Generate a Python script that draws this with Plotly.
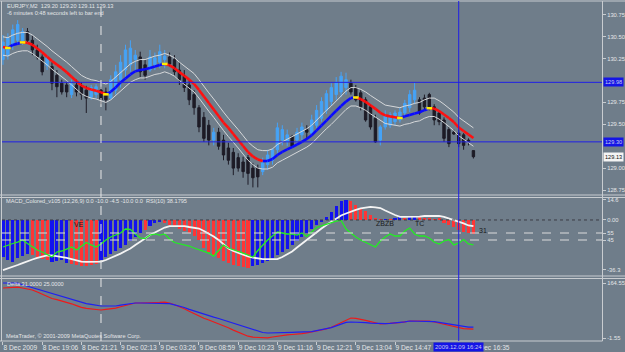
import plotly.graph_objects as go

W, H = 625, 352
def px(xp): return xp / W
def py(yp): return 1 - yp / H

# ---------------- data ----------------
bars = list(range(97))
open_ = [130.24,130.29,130.41,130.46,130.44,130.56,130.46,130.35,130.27,130.17,
         130.16,130.06,129.97,129.95,129.84,129.95,129.94,129.89,129.81,129.84,
         129.89,129.87,129.80,129.89,130.01,130.12,130.18,130.24,130.27,130.18,
         130.12,130.18,130.21,130.24,130.27,130.24,130.12,130.05,129.95,129.84,
         129.69,129.58,129.49,129.32,129.41,129.32,129.23,129.18,129.12,129.07,
         129.12,129.00,129.00,128.96,129.04,129.09,129.21,129.32,129.30,129.36,
         129.32,129.38,129.44,129.40,129.49,129.57,129.66,129.76,129.84,129.87,
         129.92,129.97,129.92,129.86,129.78,129.70,129.57,129.32,129.47,129.49,
         129.53,129.55,129.63,129.69,129.78,129.78,129.80,129.84,129.70,129.63,
         129.55,129.44,129.41,129.40,129.38,129.32,129.20]
high_ = [130.52,130.54,130.64,130.69,130.60,130.60,130.51,130.41,130.30,130.29,
         130.21,130.12,130.01,129.98,130.01,130.01,129.98,129.94,129.95,129.96,
         129.93,129.92,130.06,130.18,130.29,130.41,130.46,130.35,130.33,130.24,
         130.35,130.32,130.41,130.35,130.32,130.29,130.21,130.12,130.01,129.89,
         129.72,129.64,129.55,129.46,129.46,129.38,129.29,129.23,129.17,129.13,
         129.15,129.06,129.04,129.12,129.21,129.23,129.52,129.49,129.44,129.38,
         129.46,129.52,129.49,129.61,129.72,129.81,129.89,129.97,130.04,130.10,
         130.09,130.01,129.95,129.89,129.81,129.73,129.61,129.49,129.66,129.64,
         129.66,129.69,129.78,129.89,129.98,129.81,129.84,129.86,129.73,129.66,
         129.58,129.47,129.44,129.44,129.40,129.34,129.20]
low_ = [130.18,130.24,130.35,130.41,130.41,130.44,130.29,130.24,130.06,130.12,
        129.89,129.81,129.84,129.81,129.80,129.82,129.78,129.63,129.78,129.80,
        129.73,129.66,129.78,129.84,129.92,130.04,130.10,130.12,130.04,130.01,
        130.10,130.12,130.14,130.14,130.16,130.06,129.95,129.87,129.72,129.61,
        129.41,129.30,129.26,129.26,129.21,129.09,129.04,128.92,128.96,128.89,
        128.81,128.78,128.78,128.92,128.98,129.04,129.17,129.26,129.25,129.24,
        129.29,129.32,129.32,129.37,129.46,129.53,129.62,129.71,129.78,129.81,
        129.84,129.84,129.76,129.66,129.53,129.44,129.29,129.26,129.44,129.46,
        129.49,129.52,129.60,129.64,129.73,129.61,129.66,129.66,129.49,129.49,
        129.30,129.24,129.38,129.24,129.21,129.26,129.11]
close_ = [130.44,130.49,130.58,130.64,130.56,130.46,130.35,130.27,130.10,130.26,
          129.97,129.93,129.87,129.87,129.96,129.87,129.84,129.80,129.92,129.93,
          129.78,129.78,130.01,130.10,130.21,130.35,130.37,130.29,130.10,130.06,
          130.27,130.26,130.33,130.28,130.19,130.10,130.01,129.92,129.78,129.69,
          129.47,129.34,129.32,129.41,129.25,129.15,129.09,129.00,129.00,128.96,
          128.94,128.89,128.90,129.06,129.15,129.21,129.46,129.44,129.38,129.25,
          129.41,129.47,129.41,129.55,129.66,129.76,129.85,129.92,129.98,130.05,
          130.01,129.87,129.78,129.70,129.55,129.47,129.30,129.47,129.61,129.61,
          129.63,129.64,129.74,129.84,129.89,129.63,129.70,129.70,129.55,129.53,
          129.34,129.28,129.39,129.28,129.26,129.30,129.13]

ma = [130.384,130.373,130.407,130.422,130.436,130.432,130.409,130.366,130.323,130.273,
      130.223,130.182,130.142,130.095,130.044,129.993,129.943,129.916,129.897,129.883,
      129.867,129.843,129.872,129.921,129.979,130.024,130.070,130.107,130.121,130.129,
      130.144,130.161,130.179,130.190,130.175,130.142,130.097,130.055,130.011,129.961,
      129.893,129.819,129.744,129.670,129.596,129.521,129.459,129.390,129.321,129.253,
      129.184,129.133,129.099,129.081,129.081,129.104,129.150,129.185,129.214,129.241,
      129.270,129.300,129.334,129.375,129.431,129.487,129.543,129.599,129.655,129.710,
      129.760,129.801,129.807,129.789,129.757,129.718,129.677,129.632,129.603,129.591,
      129.581,129.573,129.593,129.606,129.623,129.639,129.662,129.684,129.681,129.652,
      129.612,129.572,129.527,129.464,129.424,129.384,129.344]
band_up = [130.50,130.49,130.52,130.54,130.55,130.55,130.52,130.48,130.44,130.39,
           130.34,130.30,130.26,130.21,130.16,130.11,130.06,130.03,130.01,130.00,
           129.98,129.96,129.99,130.04,130.09,130.14,130.19,130.22,130.24,130.24,
           130.26,130.28,130.29,130.31,130.29,130.26,130.21,130.17,130.13,130.08,
           130.01,129.93,129.86,129.79,129.71,129.64,129.57,129.51,129.44,129.37,
           129.30,129.25,129.21,129.20,129.20,129.22,129.27,129.30,129.33,129.36,
           129.39,129.42,129.45,129.49,129.55,129.60,129.66,129.71,129.77,129.83,
           129.88,129.92,129.92,129.90,129.87,129.83,129.79,129.75,129.72,129.71,
           129.70,129.69,129.71,129.72,129.74,129.75,129.78,129.80,129.80,129.77,
           129.73,129.69,129.64,129.58,129.54,129.50,129.46]
band_dn = [130.29,130.28,130.31,130.33,130.34,130.34,130.31,130.27,130.23,130.18,
           130.13,130.09,130.05,130.00,129.95,129.90,129.85,129.82,129.80,129.79,
           129.77,129.75,129.78,129.83,129.88,129.93,129.98,130.01,130.03,130.03,
           130.05,130.07,130.08,130.10,130.08,130.05,130.00,129.96,129.92,129.87,
           129.80,129.72,129.65,129.58,129.50,129.43,129.36,129.30,129.23,129.16,
           129.09,129.04,129.00,128.99,128.99,129.01,129.06,129.09,129.12,129.15,
           129.18,129.21,129.24,129.28,129.34,129.39,129.45,129.50,129.56,129.62,
           129.67,129.71,129.71,129.69,129.66,129.62,129.58,129.54,129.51,129.50,
           129.49,129.48,129.50,129.51,129.53,129.54,129.57,129.59,129.59,129.56,
           129.52,129.48,129.43,129.37,129.33,129.29,129.25]

macd_hist = [-26.9,-29.1,-30.5,-27.6,-26.2,-24.7,-25.5,-26.9,-28.4,-29.1,
             -30.5,-29.8,-29.1,-31.3,-32.0,-32.7,-33.5,-33.5,-32.7,-32.0,
             -29.1,-26.9,-24.7,-22.5,-20.4,-18.2,-15.3,-12.4,-9.5,-7.3,
             -4.4,-2.2,-1.5,-2.2,-3.6,-5.1,-6.5,-8.0,-9.5,-11.6,
             -14.5,-20.4,-23.3,-25.5,-27.6,-29.8,-31.3,-32.7,-33.5,-34.2,
             -34.9,-33.5,-32.7,-31.3,-29.8,-27.6,-25.5,-23.3,-21.1,-18.2,
             -15.3,-12.4,-9.5,-6.5,-3.6,-1.5,2.2,5.8,10.2,13.8,
             14.6,13.8,10.9,8.7,6.5,3.6,1.5,0.7,0.7,0.7,
             1.5,2.2,1.5,2.2,2.9,2.2,1.5,1.5,0.7,1.5,
             -2.2,-3.6,-5.1,-7.3,-8.7,-9.5,-10.0]
hist_dir = ["up","up","up","up","up","up","dn","dn","dn","dn",
            "up","up","up","up","dn","dn","dn","dn","dn","dn",
            "up","up","up","up","up","up","up","up","up","dn",
            "up","up","up","dn","dn","dn","dn","dn","dn","dn",
            "dn","dn","dn","dn","dn","dn","dn","dn","dn","dn",
            "dn","up","up","up","up","up","up","up","up","up",
            "up","up","up","up","up","up","up","up","up","up",
            "up","dn","dn","dn","dn","dn","dn","dn","up","dn",
            "up","up","dn","up","up","dn","dn","dn","dn","dn",
            "dn","dn","dn","dn","dn","dn","dn"]
macd_signal = [-36.4,-35.3,-34.2,-32.7,-31.3,-29.8,-28.7,-27.6,-26.9,-25.8,
               -25.7,-26.2,-26.9,-27.6,-28.4,-29.5,-30.2,-30.5,-30.5,-30.5,
               -30.2,-29.1,-27.6,-26.2,-24.4,-22.5,-20.7,-18.2,-16.0,-13.5,
               -10.9,-9.1,-7.3,-5.5,-4.4,-4.4,-4.4,-4.4,-5.1,-5.5,
               -6.2,-8.0,-9.8,-12.0,-14.5,-17.8,-20.7,-22.5,-24.0,-25.5,
               -26.5,-27.3,-28.0,-28.4,-28.4,-28.4,-28.4,-26.9,-25.1,-22.9,
               -20.0,-17.1,-14.2,-11.3,-8.7,-6.2,-3.6,-1.1,1.1,3.3,
               4.7,6.2,7.3,8.4,9.1,9.5,9.1,8.7,6.9,5.1,
               3.6,2.2,2.2,2.2,2.2,2.5,2.9,2.9,2.9,2.9,
               2.2,1.1,0.0,-1.5,-2.5,-4.0,-4.5]
rsi = [35.0,37.9,40.0,42.1,45.0,40.0,35.7,30.7,27.9,24.3,
       20.7,27.9,29.3,32.1,35.0,30.7,36.4,41.4,37.9,35.0,
       39.3,45.0,49.3,52.1,55.0,60.7,60.0,53.6,47.9,47.1,
       52.1,53.6,52.1,53.6,46.4,41.4,40.0,38.6,36.4,33.6,
       31.1,29.3,26.4,22.1,29.3,37.9,33.6,30.7,28.6,26.4,
       23.6,20.7,30.0,37.9,45.0,50.7,56.4,55.0,53.6,53.6,
       52.1,55.0,50.0,56.4,62.9,65.0,67.1,70.0,72.1,72.9,
       60.7,55.0,49.3,45.0,41.4,37.9,35.0,43.6,49.3,53.6,
       50.7,50.7,57.9,62.1,53.6,50.7,50.7,47.9,42.1,39.3,
       43.6,45.7,37.9,40.7,45.7,39.3,38.18]

delta_blue = [164.5,164.5,164.5,163.9,159.1,154.6,150.0,145.5,141.3,137.1,
              132.6,128.3,123.8,119.5,114.7,110.2,105.7,102.3,99.9,97.2,
              95.1,95.1,95.1,95.1,97.8,100.5,103.0,104.2,104.2,104.2,
              104.2,104.2,104.2,104.2,102.3,98.4,94.8,90.6,85.1,80.0,
              74.9,70.7,66.1,61.6,57.4,52.8,48.0,43.5,38.4,32.9,
              27.8,23.0,18.7,15.1,13.6,13.6,13.6,13.6,14.5,15.4,
              16.0,16.6,16.6,17.9,20.9,23.9,26.6,29.9,35.0,40.5,
              45.6,46.8,46.8,46.5,45.0,43.5,42.3,40.7,41.6,42.5,
              43.5,45.3,47.4,49.8,49.8,49.8,49.8,49.8,48.0,45.6,
              43.2,39.8,36.5,34.7,32.6,31.1,31.0]
delta_red = [149.5,150.7,151.6,152.2,149.5,146.4,143.4,137.4,130.1,123.5,
             117.7,114.4,110.8,107.2,101.7,96.3,90.8,87.8,86.0,84.5,
             83.0,85.1,87.0,88.5,92.7,97.2,101.7,104.2,104.2,104.2,
             104.2,105.1,106.0,106.9,104.2,98.7,93.3,87.0,79.1,71.3,
             63.4,58.0,52.8,47.4,42.0,35.9,29.3,22.3,16.3,9.9,
             3.9,0.9,0.0,-0.6,-1.2,1.5,4.2,7.2,8.1,9.0,
             9.9,11.4,14.2,16.9,19.3,22.6,26.2,30.8,38.0,45.3,
             52.8,58.9,57.6,55.2,51.6,48.0,44.1,40.7,41.6,42.5,
             43.5,45.0,47.4,49.8,49.8,49.8,49.8,49.5,46.8,43.5,
             39.8,36.2,32.9,28.6,27.0,26.0,25.0]

tick_bars = [0, 8, 16, 24, 32, 40, 48, 56, 64, 72, 80, 96]
tick_text = ["8 Dec 2009", "8 Dec 19:06", "8 Dec 21:21", "9 Dec 02:13", "9 Dec 03:26",
             "9 Dec 08:59", "9 Dec 10:23", "9 Dec 11:16", "9 Dec 12:21", "9 Dec 13:04",
             "9 Dec 14:47", "9 Dec 16:35"]
hlines = [129.98, 129.30]
last_price = 129.13
cursor_bar = 93
cursor_label = "2009.12.09 16:24"
period_sep_bar = 20

# ---------------- style ----------------
BG = "#6f7d8a"
FRAME = "#c8ccd0"
TXT = "#e4e6e8"
FONT = "Liberation Sans, Arial, sans-serif"

fig = go.Figure()

# price panel
fig.add_trace(go.Scatter(x=bars, y=band_up, mode="lines", line=dict(color="#d6d8da", width=1), hoverinfo="skip"))
fig.add_trace(go.Scatter(x=bars, y=band_dn, mode="lines", line=dict(color="#d6d8da", width=1), hoverinfo="skip"))
fig.add_trace(go.Candlestick(x=bars, open=open_, high=high_, low=low_, close=close_,
                             increasing=dict(line=dict(color="#45a3f7", width=1), fillcolor="#45a3f7"),
                             decreasing=dict(line=dict(color="#1d1b26", width=1), fillcolor="#1d1b26"),
                             whiskerwidth=0))
# MA colored by direction
up_x, up_y, dn_x, dn_y, turn_x, turn_y = [], [], [], [], [], []
for i in range(1, len(ma)):
    if ma[i] >= ma[i - 1]:
        up_x += [bars[i - 1], bars[i], None]; up_y += [ma[i - 1], ma[i], None]
    else:
        dn_x += [bars[i - 1], bars[i], None]; dn_y += [ma[i - 1], ma[i], None]
    if 1 < i and (ma[i] - ma[i - 1]) * (ma[i - 1] - ma[i - 2]) < 0:
        turn_x.append(bars[i - 1]); turn_y.append(ma[i - 1])
fig.add_trace(go.Scatter(x=up_x, y=up_y, mode="lines", line=dict(color="#0a0aff", width=2.6), hoverinfo="skip"))
fig.add_trace(go.Scatter(x=dn_x, y=dn_y, mode="lines", line=dict(color="#ff1010", width=2.6), hoverinfo="skip"))
fig.add_trace(go.Scatter(x=turn_x, y=turn_y, mode="markers",
                         marker=dict(symbol="line-ew", size=4, line=dict(color="#ffee00", width=2.5)), hoverinfo="skip"))

# MACD panel
fig.add_trace(go.Bar(x=bars, y=macd_hist, yaxis="y2", width=0.62,
                     marker=dict(color=["#1212f0" if d == "up" else "#ff3535" for d in hist_dir], line=dict(width=0))))
fig.add_trace(go.Scatter(x=bars, y=macd_signal, yaxis="y2", mode="lines", line=dict(color="#f4f4f4", width=1.8)))
fig.add_trace(go.Scatter(x=bars, y=rsi, yaxis="y3", mode="lines", line=dict(color="#22ee22", width=1.3)))

# Delta panel
fig.add_trace(go.Scatter(x=bars, y=delta_red, yaxis="y4", mode="lines", line=dict(color="#ee1a1a", width=1.2)))
fig.add_trace(go.Scatter(x=bars, y=delta_blue, yaxis="y4", mode="lines", line=dict(color="#2020f0", width=1.2)))

tickfont = dict(family=FONT, size=5.8, color=TXT)
common_y = dict(side="right", showgrid=False, zeroline=False, showline=False, ticks="outside",
                ticklen=3, tickcolor=FRAME, tickfont=tickfont, fixedrange=True, automargin=False)

fig.update_layout(
    width=W, height=H, margin=dict(l=0, r=0, t=0, b=0, autoexpand=False),
    paper_bgcolor=BG, plot_bgcolor=BG, showlegend=False, bargap=0,
    xaxis=dict(domain=[px(2), px(602)], range=[-0.2, 122.24], anchor="y4", automargin=False,
               showgrid=False, zeroline=False, showline=False, rangeslider=dict(visible=False),
               tickvals=tick_bars, ticktext=tick_text, ticks="outside", ticklen=3, tickcolor=FRAME,
               ticklabelposition="outside right", tickangle=0,
               tickfont=dict(family=FONT, size=6.6, color=TXT)),
    yaxis=dict(domain=[py(195), py(1)], range=[128.693, 130.909], anchor="x",
               tickvals=[130.75, 130.5, 130.25, 129.75, 129.5, 129.0, 128.75],
               ticktext=["130.75", "130.50", "130.25", "129.75", "129.50", "129.00", "128.75"], **common_y),
    yaxis2=dict(domain=[py(276), py(197)], range=[-40.7, 16.7], anchor="x",
                tickvals=[14.6, 0, -36.3], ticktext=["14.6", "0.00", "-36.3"], **common_y),
    yaxis3=dict(overlaying="y2", range=[-6.4, 106.4], anchor="x",
                tickvals=[55, 45], ticktext=["55", "45"], **common_y),
    yaxis4=dict(domain=[py(341), py(278)], range=[-10.6, 179.65], anchor="x",
                tickvals=[164.55, -1.55], ticktext=["164.55", "-1.55"], **common_y),
)

shapes = []
# frame lines
for yy in [1, 195, 197.5, 276, 278.5]:
    shapes.append(dict(type="line", xref="paper", yref="paper", x0=0, x1=1, y0=py(yy), y1=py(yy),
                       line=dict(color=FRAME, width=1)))
shapes.append(dict(type="line", xref="paper", yref="paper", x0=0, x1=px(602.5), y0=py(341), y1=py(341),
                   line=dict(color=FRAME, width=1)))
for xx in [1.5, 602.5]:
    shapes.append(dict(type="line", xref="paper", yref="paper", x0=px(xx), x1=px(xx), y0=py(341), y1=py(1),
                       line=dict(color=FRAME, width=1)))
# horizontal price lines
for h in hlines:
    shapes.append(dict(type="line", xref="paper", yref="y", x0=px(2), x1=px(602), y0=h, y1=h,
                       line=dict(color="#1f1fe6", width=1)))
# MACD zero / RSI levels
shapes.append(dict(type="line", xref="paper", yref="y2", x0=px(2), x1=px(602), y0=0, y1=0,
                   line=dict(color="#3c3c44", width=1, dash="dot")))
for lv in [55, 45]:
    shapes.append(dict(type="line", xref="paper", yref="y3", x0=px(2), x1=px(602), y0=lv, y1=lv,
                       line=dict(color="#dcdcdc", width=1, dash="dash")))
# period separator and crosshair
shapes.append(dict(type="line", xref="x", yref="paper", x0=period_sep_bar, x1=period_sep_bar, y0=py(341), y1=py(1),
                   line=dict(color="#e8e8e8", width=1, dash="dash")))
shapes.append(dict(type="line", xref="x", yref="paper", x0=cursor_bar, x1=cursor_bar, y0=py(341), y1=py(1),
                   line=dict(color="#1f1fe6", width=1)))
fig.update_layout(shapes=shapes)

def note(text, x, y, size=5.6, color=TXT, xanchor="left", **kw):
    fig.add_annotation(text=text, x=x, y=y, showarrow=False, xanchor=xanchor, yanchor="middle",
                       font=dict(family=FONT, size=size, color=color), **kw)

note("EURJPY,M2  129.20 129.20 129.11 129.13", px(5), py(6), xref="paper", yref="paper")
note("-6 minutes 0:48 seconds left to bar end", px(5), py(13), xref="paper", yref="paper")
note("MACD_Colored_v105 (12,26,9) 0.0 -10.0 -4.5 -10.0 0.0  RSI(10) 38.1795", px(4), py(201.5), xref="paper", yref="paper")
note("Delta 31.0000 25.0000", px(5), py(284), xref="paper", yref="paper")
note("MetaTrader, © 2001-2009 MetaQuotes Software Corp.", px(4), py(336), xref="paper", yref="paper")

for h in hlines:
    note(f"{h:.2f}", px(602.5), h, xref="paper", yref="y", bgcolor="#1414e6", color="#c8c8f0", borderpad=1)
note(f"{last_price:.2f}", px(602.5), last_price, xref="paper", yref="y", bgcolor="#f4f4f4", color="#101010", borderpad=1)
note(cursor_label, cursor_bar, py(347), xanchor="center", xref="x", yref="paper",
     bgcolor="#1414e6", color="#c8c8f0", borderpad=1, size=6)

note("VE", 15.6, -3.6, size=7, color="#1a1a1a", xanchor="center", xref="x", yref="y2")
note("ZBZB", 78, -2.9, size=7, color="#1a1a1a", xanchor="center", xref="x", yref="y2")
note("TC", 85, -2.9, size=7, color="#1a1a1a", xanchor="center", xref="x", yref="y2")
note("31", 96.8, -8, size=7, color="#1a1a1a", xanchor="left", xref="x", yref="y2")

fig.write_html("out.html")
